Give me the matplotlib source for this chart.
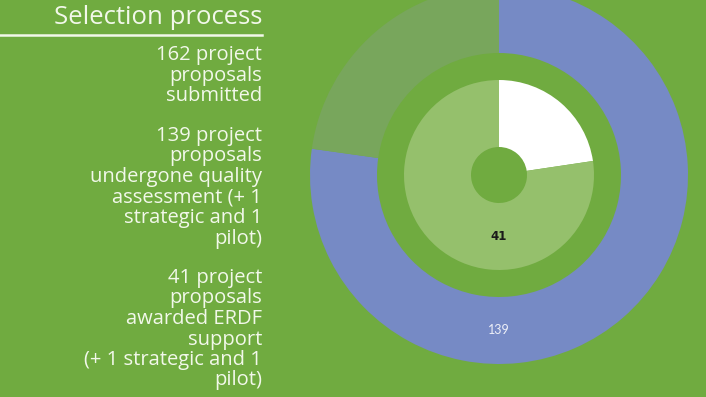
import matplotlib

matplotlib.use("Agg")

import matplotlib.pyplot as plt

BG = "#70ab40"
TEXT = "#f2f8ea"

# outer ring: quality assessed vs rest
outer_values = [139, 41]
outer_colors = ["#768ac5", "#78a65c"]
# inner ring: awarded
inner_values = [12, 41]
inner_colors = ["#ffffff", "#95c06c"]

title = "Selection process"
blocks = [
    ["162 project", "proposals", "submitted"],
    ["139 project", "proposals", "undergone quality", "assessment (+ 1",
     "strategic and 1", "pilot)"],
    ["41 project", "proposals", "awarded ERDF", "support",
     "(+ 1 strategic and 1", "pilot)"],
]
block_tops = [55, 136, 278]


def main() -> None:
    W, H = 706, 397
    fig = plt.figure(figsize=(W / 100, H / 100), dpi=100, facecolor=BG)

    # left text panel
    fig.text(262 / W, 1 - 18 / H, title, ha="right", va="center",
             fontsize=18.5, color=TEXT, family="Open Sans")
    fig.add_artist(plt.Line2D([0, 262 / W], [1 - 35 / H, 1 - 35 / H],
                              color=TEXT, lw=1.8, transform=fig.transFigure))
    for top, lines in zip(block_tops, blocks):
        for i, line in enumerate(lines):
            y = top + i * 20.5
            fig.text(262 / W, 1 - y / H, line, ha="right", va="center",
                     fontsize=14.5, color=TEXT, family="Open Sans")

    # donut charts
    cx, cy, r = 499, 175, 189
    ax = fig.add_axes([(cx - r) / W, (H - cy - r) / H, 2 * r / W, 2 * r / H])
    ax.set_facecolor(BG)
    ax.axis("off")
    ring_w = 67 / r
    ax.pie(outer_values, colors=outer_colors, radius=1.0, startangle=90,
           counterclock=False, wedgeprops={"width": ring_w, "linewidth": 0})
    ax.pie(inner_values, colors=inner_colors, radius=95 / r, startangle=90,
           counterclock=False, wedgeprops={"width": ring_w, "linewidth": 0})
    ax.set_xlim(-1, 1)
    ax.set_ylim(-1, 1)
    ax.set_aspect("equal")

    ax.text(0, -(1 - ring_w / 2), str(outer_values[0]), ha="center", va="center",
            fontsize=9, color="#eef0f8", family="Lato")
    ax.text(0, -(95 / r - ring_w / 2), str(inner_values[1]), ha="center",
            va="center", fontsize=8.5, color="#1a1a1a", family="DejaVu Sans",
            fontweight="bold")

    fig.savefig("out.png", dpi=100, facecolor=BG)
    plt.close(fig)


if __name__ == "__main__":
    main()
